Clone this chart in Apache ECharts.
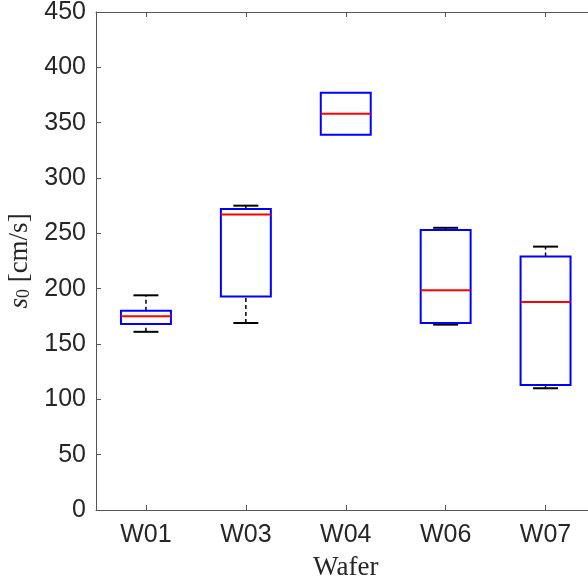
<!DOCTYPE html>
<html>
<head>
<meta charset="utf-8">
<script src="https://cdn.jsdelivr.net/npm/echarts@6/dist/echarts.min.js"></script>
<style>
  html, body { margin: 0; padding: 0; background: #fff; }
  #chart { width: 588px; height: 582px; }
</style>
</head>
<body>
<div id="chart"></div>
<script>
// box statistics per wafer
const wafers = ['W01', 'W03', 'W04', 'W06', 'W07']
const whiskerLow = [161, 169, 339, 167.5, 110]
const q1 = [168, 193, 339, 169, 113]
const medians = [175, 267, 358, 198.5, 188]
const q3 = [180, 272, 377, 253, 229]
const whiskerHigh = [194, 275, 377, 255, 238]
const yTicks = [0, 50, 100, 150, 200, 250, 300, 350, 400, 450]

const boxData = wafers.map((w, i) => [i + 1, whiskerLow[i], q1[i], medians[i], q3[i], whiskerHigh[i]])
const xPositions = wafers.map((w, i) => i + 1)

const axisColor = '#555'
const textColor = '#262626'

const renderBox = (params, api) => {
  const x = api.value(0)
  const lo = api.value(1), a = api.value(2), med = api.value(3), b = api.value(4), hi = api.value(5)
  const p = (dx, v) => api.coord([x + dx, v])
  const seg = (p1, p2, style) => ({
    type: 'line',
    shape: { x1: p1[0], y1: p1[1], x2: p2[0], y2: p2[1] },
    style: style
  })
  const dashed = { stroke: '#000', lineWidth: 1.5, lineDash: [4, 3] }
  const solid = { stroke: '#000', lineWidth: 2 }
  const tl = p(-0.25, b)
  const br = p(0.25, a)
  const children = []
  // whiskers + caps (hidden under the box when they coincide with it)
  if (hi > b) {
    children.push(seg(p(0, b), p(0, hi), dashed), seg(p(-0.125, hi), p(0.125, hi), solid))
  }
  if (lo < a) {
    children.push(seg(p(0, lo), p(0, a), dashed), seg(p(-0.125, lo), p(0.125, lo), solid))
  }
  children.push(
    {
      type: 'rect',
      shape: { x: tl[0], y: tl[1], width: br[0] - tl[0], height: br[1] - tl[1] },
      style: { fill: 'none', stroke: '#0000ff', lineWidth: 2 }
    },
    seg(p(-0.25, med), p(0.25, med), { stroke: '#ff0000', lineWidth: 2 })
  )
  return { type: 'group', children: children }
}

const chart = echarts.init(document.getElementById('chart'))
const option = {
  backgroundColor: '#fff',
  animation: false,
  grid: { left: 96, right: -7.5, top: 12, bottom: 72, containLabel: false, outerBoundsMode: 'none' },
  xAxis: [
    {
      type: 'value',
      min: 0.5,
      max: 5.5,
      position: 'bottom',
      name: 'Wafer',
      nameLocation: 'middle',
      nameGap: 44,
      nameTextStyle: { fontFamily: 'Liberation Serif', fontSize: 27, color: textColor },
      axisLine: { show: true, onZero: false, lineStyle: { color: axisColor } },
      axisTick: { show: true, inside: true, length: 5, customValues: xPositions, lineStyle: { color: axisColor } },
      axisLabel: {
        customValues: xPositions,
        formatter: (v) => wafers[Math.round(v) - 1],
        fontFamily: 'Liberation Sans',
        fontSize: 25,
        color: textColor,
        margin: 13
      },
      splitLine: { show: false }
    },
    {
      type: 'value',
      min: 0.5,
      max: 5.5,
      position: 'top',
      axisLine: { show: true, onZero: false, lineStyle: { color: axisColor } },
      axisTick: { show: true, inside: true, length: 5, customValues: xPositions, lineStyle: { color: axisColor } },
      axisLabel: { show: false },
      splitLine: { show: false }
    }
  ],
  yAxis: {
    type: 'value',
    min: 0,
    max: 450,
    interval: 50,
    name: '{i|s}{sub|0} [cm/s]',
    nameLocation: 'middle',
    nameGap: 58,
    nameRotate: 90,
    nameTextStyle: {
      fontFamily: 'Liberation Serif',
      fontSize: 27,
      color: textColor,
      rich: {
        i: { fontFamily: 'Liberation Serif', fontStyle: 'italic', fontSize: 27, color: textColor },
        sub: { fontFamily: 'Liberation Serif', fontSize: 18, color: textColor, verticalAlign: 'bottom', padding: [9, 0, 0, 0] }
      }
    },
    axisLine: { show: true, onZero: false, lineStyle: { color: axisColor } },
    axisTick: { show: true, inside: true, length: 5, customValues: yTicks, lineStyle: { color: axisColor } },
    axisLabel: { fontFamily: 'Liberation Sans', fontSize: 25, color: textColor, margin: 10 },
    splitLine: { show: false }
  },
  series: [
    {
      type: 'custom',
      renderItem: renderBox,
      encode: { x: 0, y: [1, 2, 3, 4, 5] },
      data: boxData,
      clip: false
    }
  ]
}
chart.setOption(option)
</script>
</body>
</html>
